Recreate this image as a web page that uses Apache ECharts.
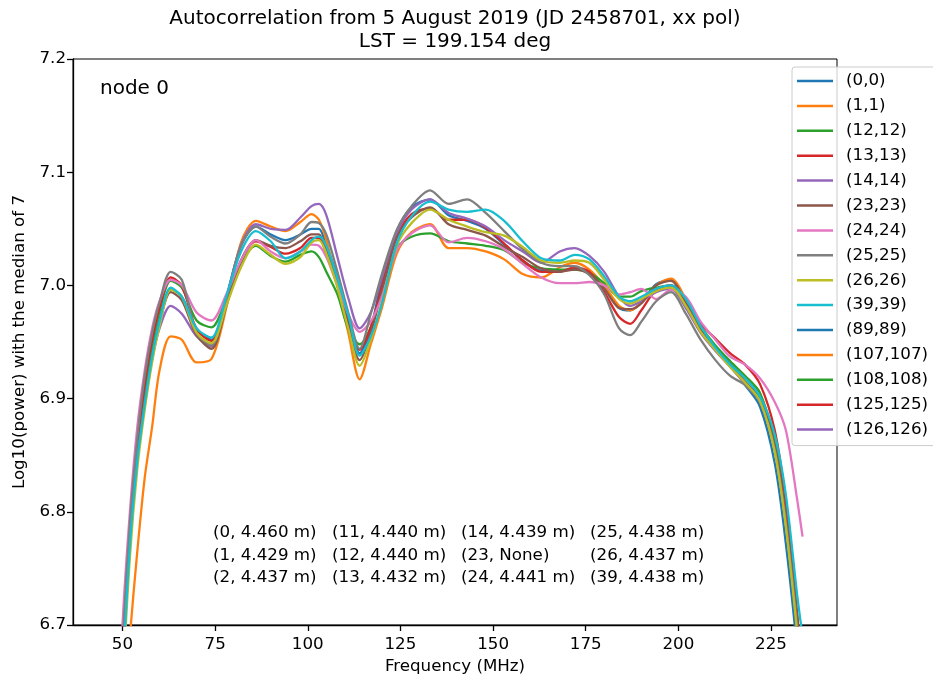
<!DOCTYPE html>
<html>
<head>
<meta charset="utf-8">
<script src="https://cdn.jsdelivr.net/npm/echarts@6/dist/echarts.min.js"></script>
<style>
html, body { margin: 0; padding: 0; background: #fff; }
#grafico { width: 933px; height: 681px; }
</style>
</head>
<body>
<div id="grafico"></div>
<script>
// Frecuencias (MHz) compartidas por todas las curvas
const freqs = [48, 50, 52, 54, 56, 58, 60, 63, 66, 70, 74, 78, 82, 86, 90, 94, 98, 101, 103, 105,
  108, 111, 114, 117, 120, 124, 128, 133, 138, 143, 148, 153, 158, 163, 168, 172, 176, 180, 184, 187,
  190, 194, 198, 202, 206, 210, 214, 218, 222, 226, 229, 232, 233.5];

// Log10(power), una lista por antena
const ac_0_0 = [6.5, 6.66, 6.775, 6.85, 6.9, 6.94, 6.97, 6.997, 6.99, 6.962, 6.952, 6.99, 7.035, 7.052, 7.045, 7.04, 7.045, 7.05, 7.05, 7.035,
  7.008, 6.97, 6.94, 6.962, 7.005, 7.048, 7.069, 7.076, 7.062, 7.057, 7.05, 7.036, 7.022, 7.013, 7.013, 7.015, 7.01, 6.998, 6.98, 6.978,
  6.985, 7.001, 7.005, 6.985, 6.961, 6.944, 6.93, 6.912, 6.893, 6.843, 6.772, 6.68, 6.62];
const ac_1_1 = [6.45, 6.6, 6.69, 6.765, 6.83, 6.875, 6.925, 6.955, 6.952, 6.932, 6.935, 6.98, 7.038, 7.057, 7.052, 7.048, 7.056, 7.063, 7.058, 7.04,
  7.0, 6.957, 6.917, 6.948, 6.98, 7.028, 7.047, 7.054, 7.033, 7.033, 7.03, 7.023, 7.01, 7.007, 7.016, 7.02, 7.014, 7.0, 6.982, 6.978,
  6.985, 7.0, 7.006, 6.988, 6.963, 6.946, 6.932, 6.92, 6.905, 6.862, 6.8, 6.71, 6.65];
const ac_12_12 = [6.5, 6.67, 6.78, 6.855, 6.91, 6.948, 6.977, 7.004, 6.998, 6.969, 6.963, 6.988, 7.02, 7.035, 7.026, 7.021, 7.027, 7.03, 7.025, 7.012,
  6.992, 6.961, 6.948, 6.963, 6.996, 7.033, 7.043, 7.046, 7.039, 7.037, 7.035, 7.031, 7.02, 7.015, 7.014, 7.014, 7.011, 7.002, 6.99, 6.99,
  6.995, 6.998, 7.0, 6.985, 6.964, 6.947, 6.933, 6.92, 6.905, 6.86, 6.8, 6.71, 6.65];
const ac_13_13 = [6.5, 6.675, 6.785, 6.86, 6.913, 6.952, 6.98, 7.007, 7.0, 6.961, 6.951, 6.985, 7.022, 7.039, 7.034, 7.028, 7.033, 7.042, 7.042, 7.028,
  7.0, 6.965, 6.943, 6.963, 6.999, 7.043, 7.063, 7.068, 7.058, 7.058, 7.051, 7.037, 7.022, 7.012, 7.012, 7.016, 7.012, 6.994, 6.972, 6.966,
  6.978, 6.996, 7.0, 6.985, 6.966, 6.953, 6.94, 6.93, 6.913, 6.872, 6.808, 6.71, 6.66];
const ac_14_14 = [6.5, 6.665, 6.77, 6.845, 6.895, 6.935, 6.962, 6.982, 6.975, 6.955, 6.946, 6.988, 7.036, 7.054, 7.05, 7.049, 7.06, 7.07, 7.072, 7.062,
  7.025, 6.988, 6.962, 6.976, 7.007, 7.046, 7.067, 7.076, 7.064, 7.059, 7.052, 7.04, 7.03, 7.02, 7.03, 7.033, 7.026, 7.012, 6.99, 6.982,
  6.986, 6.994, 6.997, 6.98, 6.958, 6.942, 6.928, 6.913, 6.898, 6.855, 6.793, 6.7, 6.64];
const ac_23_23 = [6.48, 6.655, 6.77, 6.845, 6.895, 6.935, 6.966, 6.994, 6.987, 6.956, 6.944, 6.982, 7.022, 7.04, 7.035, 7.033, 7.039, 7.045, 7.045, 7.03,
  7.002, 6.962, 6.934, 6.958, 6.995, 7.042, 7.06, 7.069, 7.054, 7.049, 7.044, 7.034, 7.025, 7.015, 7.012, 7.014, 7.01, 6.997, 6.98, 6.979,
  6.984, 7.0, 7.004, 6.985, 6.962, 6.944, 6.93, 6.915, 6.9, 6.858, 6.795, 6.705, 6.65];
const ac_24_24 = [6.55, 6.7, 6.8, 6.875, 6.925, 6.962, 6.986, 7.005, 7.0, 6.976, 6.969, 6.992, 7.022, 7.04, 7.03, 7.024, 7.03, 7.036, 7.035, 7.025,
  7.0, 6.974, 6.959, 6.968, 6.99, 7.031, 7.046, 7.053, 7.038, 7.042, 7.039, 7.032, 7.019, 7.007, 7.002, 7.002, 7.003, 7.0, 6.992, 6.994,
  6.997, 6.988, 6.996, 6.99, 6.968, 6.952, 6.937, 6.93, 6.918, 6.897, 6.872, 6.812, 6.778];
const ac_25_25 = [6.52, 6.68, 6.79, 6.865, 6.92, 6.958, 6.985, 7.012, 7.005, 6.958, 6.947, 6.988, 7.035, 7.052, 7.043, 7.037, 7.045, 7.056, 7.055, 7.045,
  7.012, 6.975, 6.944, 6.975, 7.01, 7.049, 7.07, 7.084, 7.072, 7.076, 7.064, 7.048, 7.032, 7.02, 7.017, 7.017, 7.009, 6.992, 6.962, 6.956,
  6.968, 6.986, 6.994, 6.975, 6.952, 6.934, 6.92, 6.912, 6.897, 6.855, 6.79, 6.7, 6.64];
const ac_26_26 = [6.47, 6.64, 6.76, 6.838, 6.89, 6.932, 6.964, 6.996, 6.99, 6.958, 6.949, 6.982, 7.016, 7.036, 7.027, 7.019, 7.025, 7.038, 7.04, 7.028,
  6.998, 6.961, 6.929, 6.952, 6.985, 7.035, 7.055, 7.067, 7.058, 7.052, 7.047, 7.044, 7.034, 7.022, 7.02, 7.022, 7.02, 7.005, 6.988, 6.984,
  6.988, 6.995, 6.998, 6.982, 6.959, 6.943, 6.928, 6.914, 6.898, 6.853, 6.787, 6.695, 6.64];
const ac_39_39 = [6.48, 6.65, 6.77, 6.845, 6.895, 6.937, 6.968, 6.998, 6.99, 6.962, 6.954, 6.99, 7.03, 7.048, 7.039, 7.024, 7.03, 7.04, 7.043, 7.035,
  7.006, 6.973, 6.938, 6.955, 6.984, 7.037, 7.061, 7.074, 7.067, 7.065, 7.067, 7.057, 7.039, 7.024, 7.022, 7.027, 7.023, 7.008, 6.99, 6.986,
  6.99, 6.997, 7.0, 6.988, 6.964, 6.945, 6.93, 6.918, 6.902, 6.868, 6.815, 6.728, 6.69];
// Estas antenas aparecen en la leyenda pero no tienen curva visible
const ac_89_89 = [];
const ac_107_107 = [];
const ac_108_108 = [];
const ac_125_125 = [];
const ac_126_126 = [];

const nombres = ['(0,0)', '(1,1)', '(12,12)', '(13,13)', '(14,14)', '(23,23)', '(24,24)', '(25,25)',
  '(26,26)', '(39,39)', '(89,89)', '(107,107)', '(108,108)', '(125,125)', '(126,126)'];
const valores = [ac_0_0, ac_1_1, ac_12_12, ac_13_13, ac_14_14, ac_23_23, ac_24_24, ac_25_25,
  ac_26_26, ac_39_39, ac_89_89, ac_107_107, ac_108_108, ac_125_125, ac_126_126];

const xTicks = [50, 75, 100, 125, 150, 175, 200, 225];
const yTicks = [6.7, 6.8, 6.9, 7.0, 7.1, 7.2];

// Texto de posiciones de antenas (columnas)
const columnasTexto = [
  ['(0, 4.460 m)', '(1, 4.429 m)', '(2, 4.437 m)'],
  ['(11, 4.440 m)', '(12, 4.440 m)', '(13, 4.432 m)'],
  ['(14, 4.439 m)', '(23, None)', '(24, 4.441 m)'],
  ['(25, 4.438 m)', '(26, 4.437 m)', '(39, 4.438 m)']
];

const colores = ['#1f77b4', '#ff7f0e', '#2ca02c', '#d62728', '#9467bd',
  '#8c564b', '#e377c2', '#7f7f7f', '#bcbd22', '#17becf'];
const fuente = 'DejaVu Sans';
const tam = 16.7;   // tamaño de letra normal (10 pt)
const tamTitulo = 20; // 12 pt

let series = nombres.map((nombre, k) => {
  let vals = valores[k];
  let datos = vals.map((v, i) => [freqs[i], v]).filter(p => p[1] != null);
  let color = colores[k % colores.length];
  return {
    name: nombre,
    type: 'line',
    data: datos,
    symbol: 'none',
    smooth: 0.3,
    clip: true,
    lineStyle: { width: 2.3, color: color },
    itemStyle: { color: color },
    z: 2 + k
  };
});

let grafico = echarts.init(document.getElementById('grafico'), null, { renderer: 'canvas' });

let xColX = [213, 332, 461, 590];
let graphics = [
  {
    type: 'text', x: 455, y: 19,
    style: { text: 'Autocorrelation from 5 August 2019 (JD 2458701, xx pol)', fill: '#000',
      font: tamTitulo + 'px "DejaVu Sans"', align: 'center', verticalAlign: 'middle' }
  },
  {
    type: 'text', x: 455, y: 42,
    style: { text: 'LST = 199.154 deg', fill: '#000',
      font: tamTitulo + 'px "DejaVu Sans"', align: 'center', verticalAlign: 'middle' }
  },
  {
    type: 'text', x: 100, y: 89, z: 50,
    style: { text: 'node 0', fill: '#000', font: tamTitulo + 'px "DejaVu Sans"',
      align: 'left', verticalAlign: 'middle' }
  }
];
columnasTexto.forEach((col, c) => {
  col.forEach((t, r) => {
    graphics.push({
      type: 'text', x: xColX[c], y: 533 + r * 22.5, z: 50,
      style: { text: t, fill: '#000', font: tam + 'px "DejaVu Sans"',
        align: 'left', verticalAlign: 'middle' }
    });
  });
});

grafico.setOption({
  animation: false,
  backgroundColor: '#fff',
  textStyle: { fontFamily: fuente },
  grid: {
    left: 73, right: 96, top: 59, bottom: 56,
    show: true, borderColor: '#000', borderWidth: 1, backgroundColor: 'transparent'
  },
  legend: {
    data: nombres,
    orient: 'vertical',
    left: 792, top: 67,
    padding: [4, 12, 6, 5],
    itemGap: 4.9,
    itemWidth: 36, itemHeight: 2.5,
    icon: 'rect',
    backgroundColor: 'rgba(255,255,255,0.8)',
    borderColor: '#cccccc', borderWidth: 1, borderRadius: 3,
    textStyle: { fontFamily: fuente, fontSize: tam, color: '#000', lineHeight: 20, padding: [0, 0, 0, 8] },
    z: 20
  },
  xAxis: {
    type: 'value', min: 36.65, max: 242.8,
    name: 'Frequency (MHz)', nameLocation: 'middle', nameGap: 31.5,
    nameTextStyle: { fontFamily: fuente, fontSize: tam, color: '#000' },
    splitLine: { show: false },
    axisLine: { lineStyle: { color: '#000', width: 1.3 } },
    axisTick: { customValues: xTicks, length: 6, lineStyle: { color: '#000', width: 1.3 } },
    axisLabel: { customValues: xTicks, color: '#000', fontSize: tam, margin: 11, fontFamily: fuente }
  },
  yAxis: {
    type: 'value', min: 6.7, max: 7.2,
    name: 'Log10(power) with the median of 7', nameLocation: 'middle', nameGap: 36,
    nameTextStyle: { fontFamily: fuente, fontSize: tam, color: '#000' },
    splitLine: { show: false },
    axisLine: { lineStyle: { color: '#000', width: 1.3 } },
    axisTick: { customValues: yTicks, length: 6, lineStyle: { color: '#000', width: 1.3 } },
    axisLabel: { customValues: yTicks, color: '#000', fontSize: tam, margin: 7, fontFamily: fuente,
      formatter: v => v.toFixed(1) }
  },
  graphic: graphics,
  series: series
});
</script>
</body>
</html>
